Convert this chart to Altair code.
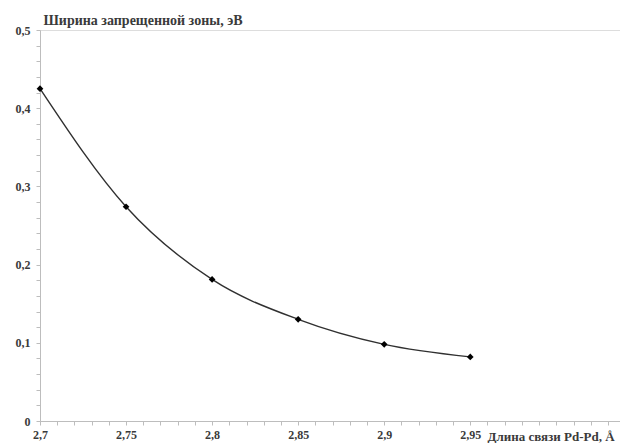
import altair as alt
import pandas as pd

bond_length = [2.7, 2.75, 2.8, 2.85, 2.9, 2.95]
band_gap = [0.425, 0.274, 0.181, 0.130, 0.098, 0.082]

x_ticks = [round(2.7 + 0.01 * i, 2) for i in range(34)]
y_ticks = [round(0.02 * i, 2) for i in range(26)]

df = pd.DataFrame({"x": bond_length, "y": band_gap})

FONT = "'Liberation Serif', 'Times New Roman', 'DejaVu Serif', serif"
AX = "#bdbdbd"
TXT = "#3a3a3a"

x_lab = ("abs(datum.value*20 - round(datum.value*20)) < 0.001 && datum.value < 2.96 ? "
         "replace(toString(round(datum.value*100)/100), '.', ',') : ''")
y_lab = ("abs(datum.value*10 - round(datum.value*10)) < 0.001 ? "
         "replace(toString(round(datum.value*10)/10), '.', ',') : ''")

xs = alt.Scale(domain=[2.7, 3.037], nice=False, zero=False)
ys = alt.Scale(domain=[0, 0.5], nice=False)

base = alt.Chart(df)

line = base.mark_line(interpolate="monotone", color="#303030", strokeWidth=1.4).encode(
    x=alt.X("x:Q", scale=xs, axis=alt.Axis(
        orient="bottom", values=x_ticks, tickCount=200, labelExpr=x_lab, grid=False,
        labelOverlap=False, labelFlush=False,
        domainColor=AX, tickColor=AX, tickSize=4, labelPadding=4,
        labelFont=FONT, labelFontSize=12, labelColor=TXT, labelFontWeight="bold",
        title="Длина связи Pd-Pd, Å", titleFont=FONT, titleFontSize=13,
        titleFontWeight="bold", titleColor=TXT, titleAngle=0, titleAlign="left",
        titleBaseline="middle", titleX=447, titleY=15)),
    y=alt.Y("y:Q", scale=ys, axis=alt.Axis(
        orient="left", values=y_ticks, tickCount=200, labelExpr=y_lab, grid=False,
        labelOverlap=False, labelFlush=False,
        domainColor=AX, tickColor=AX, tickSize=4, labelPadding=6,
        labelFont=FONT, labelFontSize=12, labelColor=TXT, labelFontWeight="bold",
        title="Ширина запрещенной зоны, эВ", titleFont=FONT, titleFontSize=14,
        titleFontWeight="bold", titleColor=TXT, titleAngle=0, titleAlign="left",
        titleBaseline="middle", titleX=3, titleY=-10)),
)

pts = base.mark_point(shape="diamond", filled=True, color="#000000", size=45, opacity=1).encode(
    x=alt.X("x:Q", scale=xs),
    y=alt.Y("y:Q", scale=ys),
)

chart = alt.layer(line, pts).properties(
    width=580, height=391,
    autosize=alt.AutoSizeParams(type="none"),
    padding={"left": 32, "top": 22, "right": 0, "bottom": 22},
).configure_view(stroke=None).configure(background="white")

chart.save("out.html", embed_options={"renderer": "svg", "actions": False})
